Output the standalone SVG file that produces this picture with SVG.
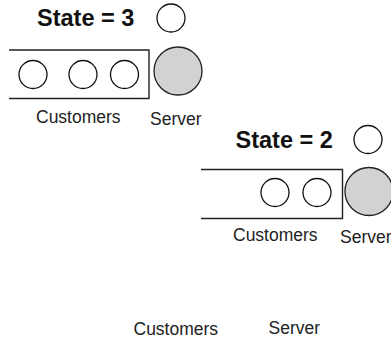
<svg xmlns="http://www.w3.org/2000/svg" width="391" height="340" viewBox="0 0 391 340">
  <style>
    .state { font-family: "Liberation Sans", Arial, sans-serif; font-weight: bold; font-size: 23.5px; fill: #111; }
    .label { font-family: "Liberation Sans", Arial, sans-serif; font-size: 17.5px; fill: #222; }
    .cust { fill: #fff; stroke: #111; stroke-width: 1.3; }
    .server { fill: #d2d2d2; stroke: #222; stroke-width: 1.3; }
    .queue { fill: none; stroke: #222; stroke-width: 1.4; }
  </style>
  <rect width="391" height="340" fill="#fff"/>

  <!-- State 3: three waiting customers plus one in service -->
  <g id="state3">
    <text class="state" x="37" y="26">State = 3</text>
    <circle class="cust" cx="171" cy="18" r="14"/>
    <path class="queue" d="M9,50 H149 V98.5 H9"/>
    <circle class="cust" cx="33" cy="74.5" r="14"/>
    <circle class="cust" cx="83" cy="74.5" r="14"/>
    <circle class="cust" cx="124.5" cy="74.5" r="14"/>
    <circle class="server" cx="178" cy="71" r="24"/>
    <text class="label" x="36" y="122.5">Customers</text>
    <text class="label" x="150" y="124.5">Server</text>
  </g>

  <!-- State 2: two waiting customers -->
  <g id="state2">
    <text class="state" x="235.5" y="147.5">State = 2</text>
    <circle class="cust" cx="368" cy="139.5" r="14"/>
    <path class="queue" d="M201,169.5 H342.5 V218.5 H201"/>
    <circle class="cust" cx="275" cy="192.5" r="14"/>
    <circle class="cust" cx="317" cy="192.5" r="14"/>
    <circle class="server" cx="369" cy="191.5" r="24"/>
    <text class="label" x="233" y="240.5">Customers</text>
    <text class="label" x="340" y="243">Server</text>
  </g>

  <!-- Third state: labels only -->
  <g id="state1">
    <text class="label" x="133.5" y="334.5">Customers</text>
    <text class="label" x="268.5" y="333.5">Server</text>
  </g>
</svg>
